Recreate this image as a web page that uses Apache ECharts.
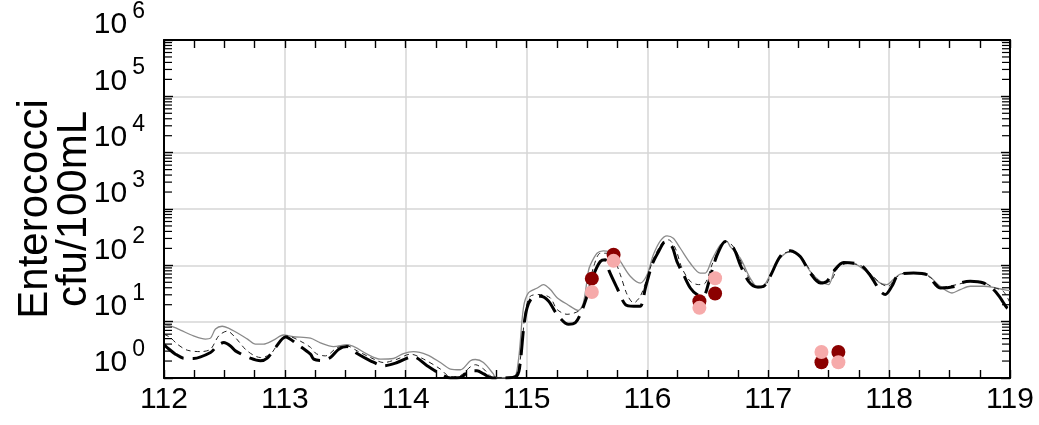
<!DOCTYPE html>
<html><head><meta charset="utf-8">
<script src="https://cdn.jsdelivr.net/npm/echarts@6/dist/echarts.min.js"></script>
<style>html,body{margin:0;padding:0;background:#fff}#c{width:1039px;height:425px}</style>
</head><body><div id="c"></div>
<script>
// ---- data ----
const xMin = 112, xMax = 119;
const yDecades = [1, 10, 100, 1000, 10000, 100000];
const yMinorMantissas = [2, 3, 4, 5, 6, 7, 8, 9];

const grayDays = [112.0,112.054,112.136,112.244,112.343,112.385,112.426,112.481,112.533,112.608,112.691,112.757,112.823,112.906,112.988,113.071,113.212,113.294,113.402,113.515,113.584,113.681,113.791,113.898,113.981,114.064,114.177,114.287,114.37,114.452,114.535,114.577,114.643,114.725,114.742,114.891,114.932,114.974,115.015,115.089,115.139,115.197,115.255,115.338,115.429,115.47,115.511,115.528,115.583,115.635,115.718,115.776,115.858,115.941,115.997,116.049,116.107,116.162,116.214,116.272,116.355,116.437,116.479,116.534,116.603,116.658,116.685,116.768,116.851,116.92,116.961,117.016,117.099,117.182,117.264,117.347,117.43,117.499,117.554,117.623,117.734,117.844,117.927,117.982,118.034,118.092,118.199,118.313,118.423,118.52,118.588,118.671,118.781,118.864,118.946,119.0];
const grayValues = [8.9,8.4,7.1,5.6,4.9,5.1,7.4,8.3,7.7,6.3,4.9,4.0,4.0,4.7,5.8,5.4,5.1,4.2,3.6,3.9,3.5,2.65,2.16,2.22,2.72,2.94,2.58,1.88,1.44,1.40,2.02,2.13,1.88,1.18,1.02,1.0,2.02,17.6,32.3,39.6,45.5,37.1,26.4,20.2,15.8,21.5,78,102,164,181,169,117,64,48.5,68,154,272,333,302,201,109,73,73,126,231,264,215,134,59,39.6,42.5,68,134,176,144,78,52,45.5,89,109,102,68,48.5,45.5,56,70,73,68,42.5,32.3,37.1,42.5,42.5,40.7,37.1,35.6];

const thinDays = [112.0,112.054,112.109,112.192,112.302,112.385,112.453,112.523,112.591,112.688,112.798,112.881,112.95,113.019,113.129,113.212,113.26,113.336,113.433,113.515,113.598,113.708,113.818,113.929,114.039,114.149,114.287,114.37,114.452,114.535,114.577,114.645,114.728,114.893,114.935,114.963,114.99,115.031,115.114,115.197,115.252,115.335,115.431,115.472,115.513,115.555,115.61,115.666,115.721,115.776,115.832,115.886,115.941,115.997,116.052,116.121,116.175,116.231,116.286,116.355,116.423,116.479,116.534,116.603,116.658,116.727,116.81,116.892,116.958,117.033,117.116,117.198,117.281,117.364,117.447,117.513,117.579,117.662,117.761,117.844,117.927,117.993,118.051,118.133,118.241,118.34,118.439,118.489,118.571,118.671,118.778,118.861,118.944,119.0];
const thinValues = [6.0,5.2,4.0,3.12,2.94,3.25,5.6,6.8,5.2,3.03,2.31,2.65,4.25,5.6,4.5,3.5,2.7,2.47,3.47,3.71,3.03,2.31,1.88,2.16,2.65,2.16,1.44,1.05,1.1,1.58,1.72,1.44,1.02,1.05,1.54,3.98,15.4,28.3,30.3,26.4,16.5,13.5,15.4,20.2,39.6,95,164,164,134,68,30.3,21.5,28.3,59,134,246,283,201,89,52,45.5,48.5,102,215,264,191,78,42.5,40.7,78,156,176,132,72,50,52,92,108,100,72,48,42.5,59,73,73,61,40.7,42.5,46,52,50,40.7,34.7,21.5];

const thickDays = [112.0,112.026,112.095,112.161,112.244,112.385,112.44,112.495,112.55,112.591,112.715,112.798,112.854,112.922,113.005,113.102,113.212,113.239,113.3,113.377,113.446,113.515,113.584,113.708,113.818,113.929,114.06,114.177,114.287,114.37,114.452,114.535,114.59,114.645,114.715,114.811,114.921,114.949,114.976,115.004,115.045,115.114,115.183,115.252,115.348,115.404,115.445,115.5,115.555,115.61,115.651,115.685,115.749,115.817,115.886,115.941,115.983,116.038,116.093,116.148,116.203,116.244,116.299,116.355,116.41,116.462,116.506,116.548,116.589,116.644,116.713,116.768,116.837,116.907,116.961,117.016,117.099,117.182,117.264,117.347,117.43,117.485,117.54,117.623,117.761,117.844,117.927,117.968,118.023,118.078,118.202,118.313,118.423,118.547,118.588,118.671,118.781,118.864,118.92,118.975,119.0];
const thickValues = [3.9,3.47,2.65,2.25,2.22,2.83,3.71,4.25,3.71,3.03,2.25,2.02,2.25,3.47,5.35,3.98,2.65,2.16,2.05,2.31,3.25,3.61,2.83,2.02,1.65,1.88,2.4,1.65,1.18,1.0,1.02,1.35,1.35,1.18,1.0,1.0,1.1,2.02,7.8,17.6,26.4,28.3,23.1,13.5,9.0,9.6,13.5,28.3,68,117,126,78,39.6,20.2,18.8,18.8,39.6,102,176,264,215,117,68,39.6,30.3,28.3,48.5,102,176,264,201,102,52,41.3,42.5,64,144,181,144,73,48.5,52,78,112,102,66,34.7,30.3,42.5,68,73,68,39.6,42.5,48.5,52,48.5,37.1,26.4,17.6,16.5];

const darkRedDays = [115.54, 115.72, 116.43, 116.56, 117.44, 117.58];
const darkRedValues = [58, 154, 23, 31.6, 1.9, 2.9];
const pinkDays = [115.54, 115.72, 116.43, 116.56, 117.44, 117.58];
const pinkValues = [33.7, 120, 17.6, 59, 2.9, 1.9];

const yAxisTitle = 'Enterococci\ncfu/100mL';

// ---- chart ----
const FONT = '"Liberation Sans", Arial, sans-serif';
const pairs = (xs, ys) => xs.map((x, i) => [x, ys[i]]);
const chart = echarts.init(document.getElementById('c'), null, {renderer: 'canvas'});

const tickStyle = {color: '#000', width: 1.4};
const option = {
  animation: false,
  grid: {left: 164, right: 29, top: 37, bottom: 47, containLabel: false},
  xAxis: [
    {type: 'value', min: xMin, max: xMax, interval: 1, position: 'bottom',
     axisLine: {show: true, onZero: false, lineStyle: {color: '#000', width: 2}},
     axisTick: {show: true, inside: true, length: 8, lineStyle: tickStyle},
     minorTick: {show: true, splitNumber: 4, length: 8, lineStyle: tickStyle},
     axisLabel: {fontSize: 30, color: '#000', fontFamily: FONT, margin: 7},
     splitLine: {show: true, lineStyle: {color: '#d6d6d6', width: 1.5}}},
    {type: 'value', min: xMin, max: xMax, interval: 1, position: 'top',
     axisLine: {show: true, onZero: false, lineStyle: {color: '#000', width: 2}},
     axisTick: {show: true, inside: true, length: 8, lineStyle: tickStyle},
     minorTick: {show: true, splitNumber: 4, length: 8, lineStyle: tickStyle},
     axisLabel: {show: false}, splitLine: {show: false}}
  ],
  yAxis: [
    {type: 'log', logBase: 10, min: 1, max: 1e6, splitNumber: 6, position: 'left',
     name: yAxisTitle, nameLocation: 'middle', nameGap: 70, nameMoveOverlap: false,
     nameTextStyle: {fontSize: 42, lineHeight: 39, color: '#000', fontFamily: FONT},
     axisLine: {show: true, onZero: false, lineStyle: {color: '#000', width: 2}},
     axisTick: {show: true, inside: true, length: 9, lineStyle: tickStyle},
     axisLabel: {
       margin: 19, verticalAlign: 'bottom',
       formatter: v => '{b|10}{s|' + Math.round(Math.log10(v)) + '}',
       rich: {
         b: {fontSize: 30, lineHeight: 17, color: '#000', fontFamily: FONT, verticalAlign: 'bottom'},
         s: {fontSize: 23, lineHeight: 22, color: '#000', fontFamily: FONT, verticalAlign: 'bottom', padding: [0, 0, 17, 5]}
       }
     },
     splitLine: {show: true, lineStyle: {color: '#d6d6d6', width: 1.5}}},
    {type: 'log', logBase: 10, min: 1, max: 1e6, splitNumber: 6, position: 'right',
     axisLine: {show: true, onZero: false, lineStyle: {color: '#000', width: 2}},
     axisTick: {show: true, inside: true, length: 9, lineStyle: tickStyle},
     axisLabel: {show: false}, splitLine: {show: false}}
  ],
  series: [
    {type: 'custom', xAxisIndex: 0, yAxisIndex: 0, silent: true, clip: false, z: 5,
     data: [[xMin, 1]],
     renderItem: function (params, api) {
       const cs = params.coordSys;
       const children = [];
       yDecades.forEach(d => yMinorMantissas.forEach(m => {
         const y = api.coord([xMin, d * m])[1];
         children.push({type: 'line', shape: {x1: cs.x, y1: y, x2: cs.x + 8, y2: y}, style: {stroke: '#000', lineWidth: 1.2}});
         children.push({type: 'line', shape: {x1: cs.x + cs.width - 8, y1: y, x2: cs.x + cs.width, y2: y}, style: {stroke: '#000', lineWidth: 1.2}});
       }));
       return {type: 'group', children: children};
     }},
    {type: 'line', name: 'gray', data: pairs(grayDays, grayValues), showSymbol: false, symbol: 'none', smooth: 0.3,
     lineStyle: {color: '#8a8a8a', width: 1.3, type: 'solid'}, z: 2},
    {type: 'line', name: 'thin', data: pairs(thinDays, thinValues), showSymbol: false, symbol: 'none', smooth: 0.3,
     lineStyle: {color: '#222', width: 1, type: [5, 4]}, z: 3},
    {type: 'line', name: 'thick', data: pairs(thickDays, thickValues), showSymbol: false, symbol: 'none', smooth: 0.3,
     lineStyle: {color: '#000', width: 3, type: [24, 9], cap: 'butt'}, z: 4},
    {type: 'scatter', name: 'obs1', data: pairs(darkRedDays, darkRedValues), symbol: 'circle', symbolSize: 14,
     itemStyle: {color: '#8b0000', opacity: 1}, z: 6},
    {type: 'scatter', name: 'obs2', data: pairs(pinkDays, pinkValues), symbol: 'circle', symbolSize: 14,
     itemStyle: {color: '#f6aaaa', opacity: 1}, z: 7}
  ]
};
chart.setOption(option);
</script>
</body></html>
